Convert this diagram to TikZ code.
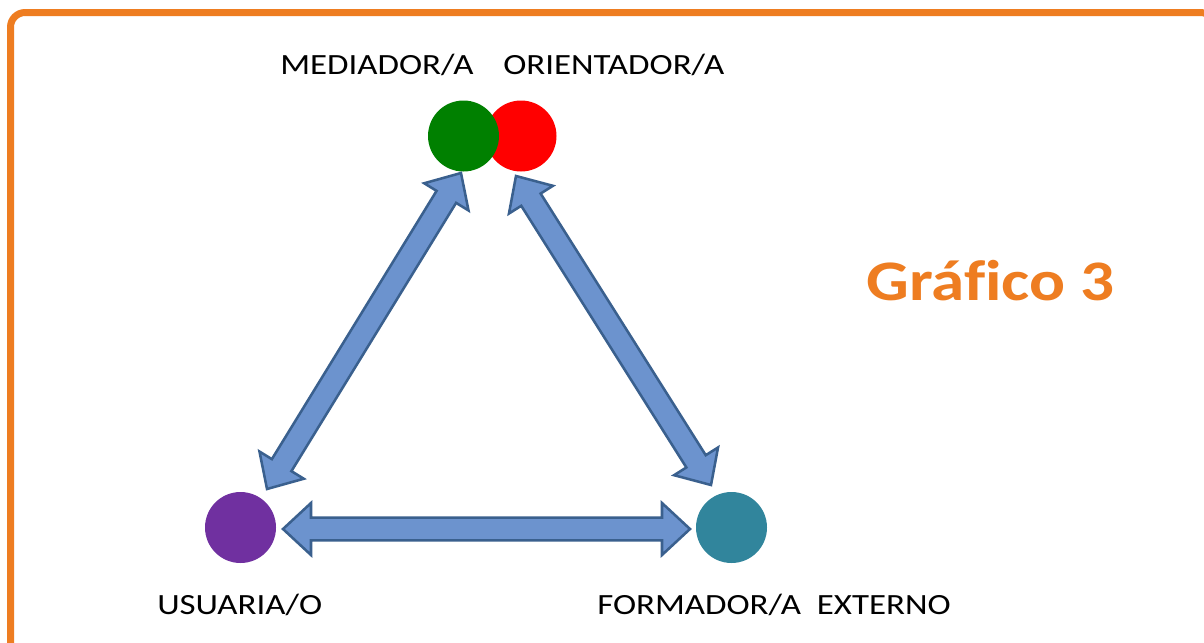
\documentclass[tikz,border=0pt]{standalone}
\usepackage{fontspec}
\setmainfont{Carlito}[FakeStretch=1.19]
\newfontfamily\titlefont{Carlito}[FakeStretch=1.17, Ligatures={NoCommon}]
\usetikzlibrary{calc}
\definecolor{frameorange}{RGB}{238,125,33}
\definecolor{arrfill}{RGB}{108,147,206}
\definecolor{arrline}{RGB}{58,96,142}
\definecolor{cgreen}{RGB}{0,128,0}
\definecolor{cred}{RGB}{255,0,0}
\definecolor{cpurple}{RGB}{112,48,160}
\definecolor{cteal}{RGB}{49,133,156}
\tikzset{
  disc/.style={circle, inner sep=0pt, minimum size=53.25pt},
  lbl/.style={anchor=base west, inner sep=0pt, font=\fontsize{22}{26}\selectfont},
  blockarr/.style={fill=arrfill, draw=arrline, line width=1.9pt, line join=miter},
}
\newcommand\dblblock[2]{%
  \draw[blockarr] (#1)
    -- ($(#1)!21pt!(#2)!19.5pt!90:(#2)$)
    -- ($(#1)!21pt!(#2)!8.6pt!90:(#2)$)
    -- ($(#2)!21pt!(#1)!8.6pt!-90:(#1)$)
    -- ($(#2)!21pt!(#1)!19.5pt!-90:(#1)$)
    -- (#2)
    -- ($(#2)!21pt!(#1)!19.5pt!90:(#1)$)
    -- ($(#2)!21pt!(#1)!8.6pt!90:(#1)$)
    -- ($(#1)!21pt!(#2)!8.6pt!-90:(#2)$)
    -- ($(#1)!21pt!(#2)!19.5pt!-90:(#2)$)
    -- cycle;}
\begin{document}
\begin{tikzpicture}[x=0.75pt,y=-0.75pt]
\useasboundingbox (0,0) rectangle (1204,643);
\clip (0,0) rectangle (1204,643);
\fill[white] (0,0) rectangle (1204,643);
\draw[frameorange, line width=5.25pt, rounded corners=11pt] (10.5,12.5) rectangle (1215,656);
% discs
\node[disc, fill=cred] (orient) at (521,136) {};
\node[disc, fill=cgreen] (media) at (463.5,136) {};
\node[disc, fill=cpurple] (usu) at (240.5,527.5) {};
\node[disc, fill=cteal] (form) at (731.5,527.5) {};
% arrow end points
\coordinate (a1) at (461,173);
\coordinate (a2) at (267,489);
\coordinate (b1) at (516,176);
\coordinate (b2) at (711,485);
\coordinate (c1) at (283,529);
\coordinate (c2) at (690,529);
\dblblock{a1}{a2}
\dblblock{b1}{b2}
\dblblock{c1}{c2}
% labels
\node[lbl] (tmed) at (280,74) {MEDIADOR/A};
\node[lbl] (tori) at (503,74) {ORIENTADOR/A};
\node[lbl] (tusu) at (157,614) {USUARIA/O};
\node[lbl] (tform) at (597,614) {FORMADOR/A\ \ EXTERNO};
\node[anchor=base west, inner sep=0pt, text=frameorange, font=\titlefont\fontsize{43}{50}\selectfont\bfseries] (title) at (866,300) {Gráf\kern0pt ico 3};
\end{tikzpicture}
\end{document}
